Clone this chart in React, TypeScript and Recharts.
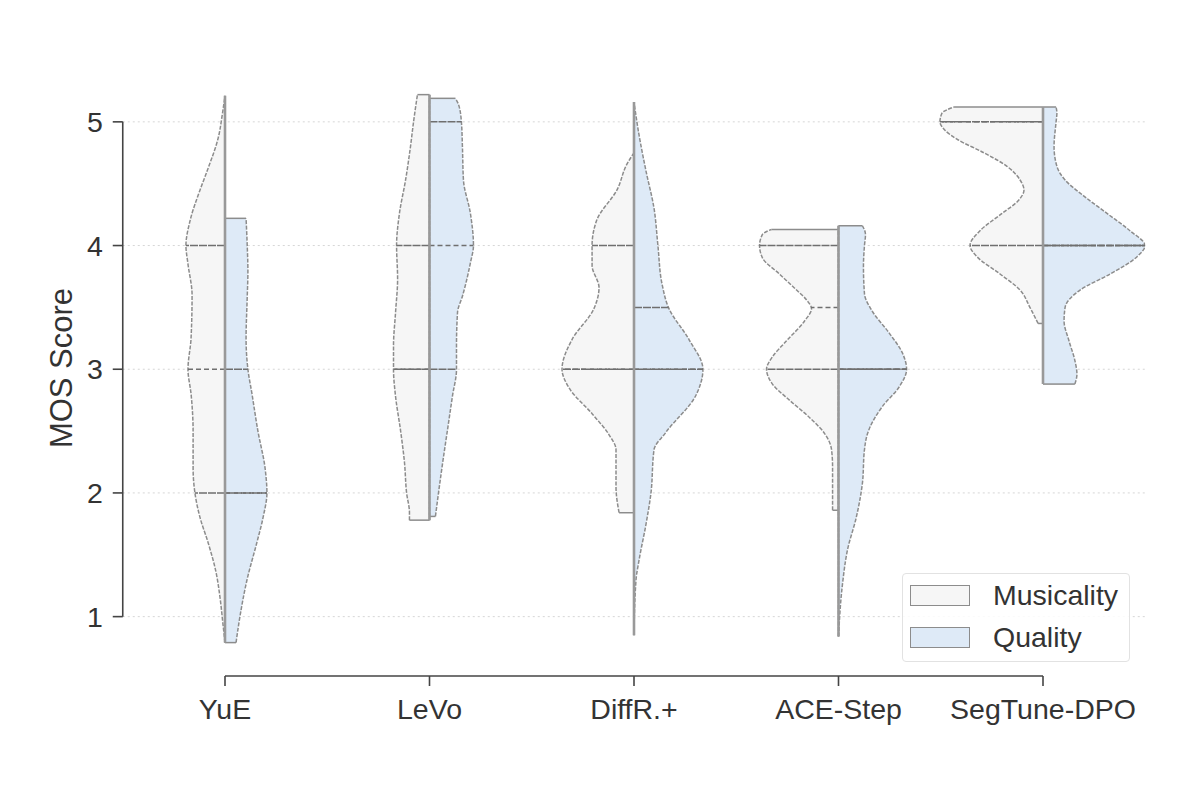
import React from 'react';
import {
  ComposedChart,
  Area,
  XAxis,
  YAxis,
  CartesianGrid,
  ReferenceLine,
  Legend,
} from 'recharts';

const CATEGORIES = ['YuE', 'LeVo', 'DiffR.+', 'ACE-Step', 'SegTune-DPO'];
const SERIES = ['Musicality', 'Quality'];
const Y_TICKS = [1, 2, 3, 4, 5];

// violin outlines: [MOS score, half width in category units]
const YUE_MUS = [[5.21, 0], [5.04, 0.015], [4.9, 0.029], [4.6, 0.088], [4.45, 0.122], [4.2, 0.171], [4.0, 0.191], [3.85, 0.181], [3.6, 0.161], [3.25, 0.166], [3.0, 0.181], [2.8, 0.166], [2.5, 0.156], [2.2, 0.156], [2.0, 0.147], [1.8, 0.122], [1.6, 0.083], [1.36, 0.044], [1.15, 0.024], [0.94, 0.01], [0.79, 0]];
const YUE_QUA = [[4.22, 0.103], [4.03, 0.108], [3.79, 0.112], [3.55, 0.108], [3.25, 0.103], [3.0, 0.112], [2.8, 0.132], [2.5, 0.161], [2.2, 0.196], [2.0, 0.205], [1.8, 0.186], [1.6, 0.156], [1.3, 0.108], [1.0, 0.073], [0.79, 0.054]];
const LEVO_MUS = [[5.22, 0.059], [5.0, 0.078], [4.8, 0.093], [4.53, 0.117], [4.26, 0.147], [4.0, 0.161], [3.73, 0.156], [3.46, 0.166], [3.19, 0.176], [3.0, 0.176], [2.78, 0.166], [2.51, 0.142], [2.24, 0.122], [2.0, 0.112], [1.84, 0.098], [1.78, 0.098]];
const LEVO_QUA = [[5.19, 0.127], [5.14, 0.142], [5.0, 0.156], [4.8, 0.161], [4.53, 0.166], [4.26, 0.2], [4.0, 0.215], [3.86, 0.2], [3.59, 0.161], [3.46, 0.137], [3.19, 0.132], [3.0, 0.132], [2.78, 0.112], [2.51, 0.088], [2.24, 0.064], [2.0, 0.044], [1.81, 0.029]];
const DIFF_MUS = [[4.75, 0], [4.66, 0.034], [4.45, 0.083], [4.21, 0.181], [4.0, 0.205], [3.84, 0.205], [3.66, 0.171], [3.49, 0.196], [3.24, 0.303], [3.0, 0.352], [2.85, 0.318], [2.64, 0.205], [2.47, 0.122], [2.35, 0.088], [2.05, 0.088], [1.84, 0.073]];
const DIFF_QUA = [[5.16, 0], [4.9, 0.024], [4.6, 0.059], [4.3, 0.098], [4.0, 0.117], [3.69, 0.137], [3.49, 0.171], [3.24, 0.269], [3.0, 0.337], [2.79, 0.303], [2.49, 0.156], [2.35, 0.098], [2.0, 0.083], [1.75, 0.059], [1.45, 0.024], [1.3, 0.01], [0.85, 0]];
const ACE_MUS = [[4.13, 0.328], [4.09, 0.372], [4.0, 0.386], [3.9, 0.372], [3.77, 0.289], [3.64, 0.205], [3.56, 0.156], [3.49, 0.132], [3.39, 0.166], [3.23, 0.254], [3.1, 0.323], [3.0, 0.352], [2.88, 0.323], [2.75, 0.24], [2.61, 0.142], [2.48, 0.068], [2.35, 0.034], [2.21, 0.029], [1.94, 0.029], [1.86, 0.029]];
const ACE_QUA = [[4.16, 0.117], [4.09, 0.132], [4.0, 0.127], [3.83, 0.122], [3.61, 0.127], [3.48, 0.161], [3.29, 0.249], [3.13, 0.313], [3.0, 0.333], [2.86, 0.298], [2.7, 0.215], [2.48, 0.142], [2.35, 0.127], [2.08, 0.117], [1.81, 0.088], [1.54, 0.044], [1.27, 0.02], [0.84, 0]];
const SEG_MUS = [[5.12, 0.435], [5.07, 0.494], [5.0, 0.504], [4.94, 0.484], [4.86, 0.421], [4.75, 0.289], [4.64, 0.176], [4.53, 0.112], [4.45, 0.093], [4.37, 0.117], [4.26, 0.2], [4.12, 0.308], [4.0, 0.357], [3.91, 0.323], [3.77, 0.21], [3.64, 0.112], [3.5, 0.064], [3.37, 0.024]];
const SEG_QUA = [[5.12, 0.064], [5.07, 0.068], [5.0, 0.064], [4.8, 0.054], [4.64, 0.068], [4.53, 0.108], [4.4, 0.2], [4.26, 0.313], [4.12, 0.425], [4.0, 0.499], [3.91, 0.46], [3.77, 0.328], [3.64, 0.181], [3.5, 0.108], [3.39, 0.103], [3.23, 0.127], [3.07, 0.156], [2.96, 0.166], [2.88, 0.156]];

const MUSICALITY = [YUE_MUS, LEVO_MUS, DIFF_MUS, ACE_MUS, SEG_MUS];
const QUALITY = [YUE_QUA, LEVO_QUA, DIFF_QUA, ACE_QUA, SEG_QUA];

// inner lines: [q1, median, q3]
const MUS_QUARTILES = [[2, 3, 4], [3, 3, 4], [3, 3, 4], [3, 3.5, 4], [4, 5, 5]];
const QUA_QUARTILES = [[2, 2, 3], [3, 4, 5], [3, 3, 3.5], [3, 3, 3], [4, 4, 4]];

const FILLS = ['#f6f6f6', '#deeaf7'];
const OUTLINE = '#8c8c8c';
const AXIS = '#444';
const TEXT = '#333';

type Pt = [number, number];

// width of an outline at a given score (exact match, else between neighbours)
function widthAt(pts: Pt[], y: number) {
  for (let k = 0; k < pts.length; k++) {
    if (pts[k][0] === y) return pts[k][1];
  }
  for (let k = 1; k < pts.length; k++) {
    const [y0, w0] = pts[k - 1];
    const [y1, w1] = pts[k];
    if (y >= y0 && y <= y1) return w0 + ((y - y0) / (y1 - y0)) * (w1 - w0);
  }
  return 0;
}

const halves = SERIES.flatMap((name, s) => {
  const sets = s === 0 ? MUSICALITY : QUALITY;
  const quarts = s === 0 ? MUS_QUARTILES : QUA_QUARTILES;
  const dir = s === 0 ? -1 : 1;
  return sets.map((outline, i) => {
    const pts = ([...outline] as Pt[]).sort((a, b) => a[0] - b[0]);
    return {
      key: `${name}-${i}`,
      s,
      i,
      dir,
      pts,
      quarts: quarts[i],
      data: pts.map(([y, w]) => ({ y, v: [i, i + dir * w] })),
    };
  });
});

function LegendBox() {
  return (
    <div
      style={{
        width: 228,
        height: 89,
        boxSizing: 'border-box',
        border: '1px solid #e2e2e2',
        borderRadius: 4,
        background: 'rgba(255,255,255,0.85)',
        paddingLeft: 7,
      }}
    >
      {SERIES.map((name, s) => (
        <div key={name} style={{ display: 'flex', alignItems: 'center', height: 42 }}>
          <span
            style={{
              display: 'inline-block',
              width: 60,
              height: 21,
              boxSizing: 'border-box',
              background: FILLS[s],
              border: `1.5px solid ${OUTLINE}`,
            }}
          />
          <span style={{ marginLeft: 23, fontSize: 28.5, color: TEXT }}>{name}</span>
        </div>
      ))}
    </div>
  );
}

export default function App() {
  const xTicks = CATEGORIES.map((_, i) => i);
  const seg = (x0: number, y0: number, x1: number, y1: number) =>
    [{ x: x0, y: y0 }, { x: x1, y: y1 }];

  return (
    <div
      style={{
        position: 'relative',
        width: 1200,
        height: 786,
        background: '#fff',
        fontFamily: '"Liberation Sans", Arial, sans-serif',
      }}
    >
      <style>{'body{margin:0}'}</style>
      <ComposedChart
        layout="vertical"
        width={1200}
        height={786}
        margin={{ top: 60, right: 54.75, bottom: 50, left: 0 }}
      >
        <CartesianGrid
          vertical={false}
          horizontalValues={Y_TICKS}
          stroke="#d6d6d6"
          strokeDasharray="2 3"
        />
        <XAxis
          type="number"
          domain={[-0.5, 4.5]}
          allowDataOverflow
          ticks={xTicks}
          tickFormatter={(v) => CATEGORIES[v]}
          axisLine={false}
          tickLine={{ stroke: AXIS, strokeWidth: 1.6 }}
          tickSize={10}
          tickMargin={13}
          height={60}
          interval={0}
          tick={{ fill: TEXT, fontSize: 28.5 }}
        />
        <YAxis
          type="number"
          dataKey="y"
          domain={[0.52, 5.5]}
          reversed
          allowDataOverflow
          ticks={Y_TICKS}
          axisLine={false}
          tickLine={{ stroke: AXIS, strokeWidth: 1.6 }}
          tickSize={10}
          tickMargin={10}
          width={122.75}
          interval={0}
          tick={{ fill: TEXT, fontSize: 28.5 }}
          label={{ value: 'MOS Score', angle: -90, position: 'center', fill: TEXT, fontSize: 31 }}
        />

        {halves.map((h) => (
          <Area
            key={h.key}
            data={h.data}
            dataKey="v"
            type="monotone"
            fill={FILLS[h.s]}
            fillOpacity={1}
            stroke={OUTLINE}
            strokeWidth={1.5}
            strokeDasharray="4 1.5"
            dot={false}
            activeDot={false}
            legendType="none"
            isAnimationActive={false}
          />
        ))}

        {/* flat caps where the violin is cut at the data range */}
        {halves.flatMap((h) =>
          [h.pts[0], h.pts[h.pts.length - 1]]
            .filter(([, w]) => w > 0.001)
            .map(([y, w], k) => (
              <ReferenceLine
                key={`cap-${h.key}-${k}`}
                segment={seg(h.i, y, h.i + h.dir * w, y)}
                stroke={OUTLINE}
                strokeWidth={1.5}
                ifOverflow="visible"
              />
            )),
        )}

        {/* quartile lines, median dashed */}
        {halves.flatMap((h) =>
          h.quarts.map((q, k) => (
            <ReferenceLine
              key={`q-${h.key}-${k}`}
              segment={seg(h.i, q, h.i + h.dir * widthAt(h.pts, q), q)}
              stroke="#6f6f6f"
              strokeWidth={1.5}
              strokeDasharray={k === 1 ? '5 3' : '8 1'}
              ifOverflow="visible"
            />
          )),
        )}

        {/* centre split line */}
        {CATEGORIES.map((c, i) => {
          const all = [...MUSICALITY[i], ...QUALITY[i]].map((p) => p[0]);
          return (
            <ReferenceLine
              key={`mid-${c}`}
              segment={seg(i, Math.min(...all), i, Math.max(...all))}
              stroke="#999"
              strokeWidth={2.6}
              ifOverflow="visible"
            />
          );
        })}

        {/* trimmed spines */}
        <ReferenceLine
          segment={seg(-0.5, Y_TICKS[0], -0.5, Y_TICKS[Y_TICKS.length - 1])}
          stroke={AXIS}
          strokeWidth={1.6}
          ifOverflow="visible"
        />
        <ReferenceLine
          segment={seg(0, 0.52, CATEGORIES.length - 1, 0.52)}
          stroke={AXIS}
          strokeWidth={1.6}
          ifOverflow="visible"
        />

        <Legend
          layout="vertical"
          verticalAlign="middle"
          align="center"
          content={<LegendBox />}
          wrapperStyle={{ left: 902, top: 573, width: 228, height: 89 }}
        />
      </ComposedChart>
    </div>
  );
}
